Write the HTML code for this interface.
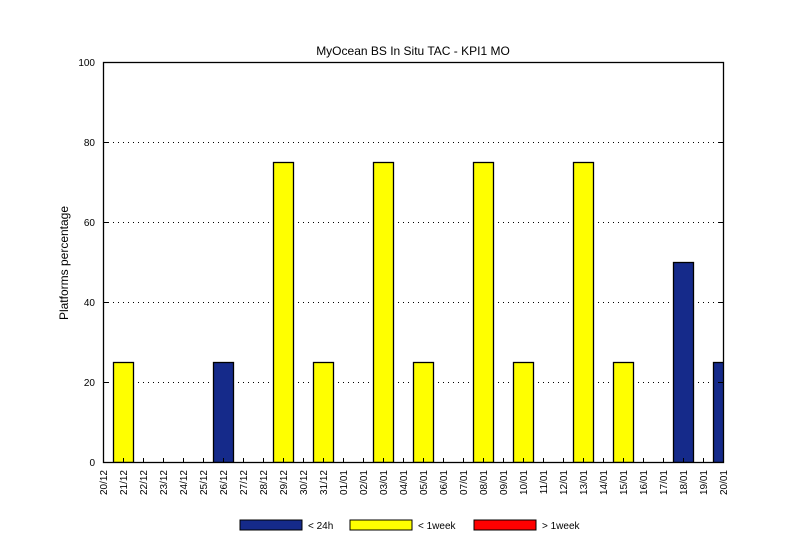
<!DOCTYPE html>
<html><head><meta charset="utf-8"><style>
body{margin:0;background:#fff;}
svg{display:block;font-family:"Liberation Sans",sans-serif;}
</style></head><body>
<svg id="chart" width="799" height="556">
<text x="413" y="55" font-size="12" text-anchor="middle">MyOcean  BS In Situ TAC - KPI1  MO</text>
<text transform="translate(68,263) rotate(-90)" font-size="12" text-anchor="middle">Platforms percentage</text>
<g id="grid"></g><g id="bars"></g><g id="axes"></g>
<g>
<rect x="240" y="520" width="62" height="10" fill="#152a8a" stroke="#000"/>
<text x="308" y="529" font-size="10">&lt; 24h</text>
<rect x="350" y="520" width="62" height="10" fill="#ffff00" stroke="#000"/>
<text x="418" y="529" font-size="10">&lt; 1week</text>
<rect x="474" y="520" width="62" height="10" fill="#ff0000" stroke="#000"/>
<text x="542" y="529" font-size="10">&gt; 1week</text>
</g>
</svg>
<script>
const categories=["20/12","21/12","22/12","23/12","24/12","25/12","26/12","27/12","28/12","29/12","30/12","31/12","01/01","02/01","03/01","04/01","05/01","06/01","07/01","08/01","09/01","10/01","11/01","12/01","13/01","14/01","15/01","16/01","17/01","18/01","19/01","20/01"];
const under24h=[0,0,0,0,0,0,25,0,0,0,0,0,0,0,0,0,0,0,0,0,0,0,0,0,0,0,0,0,0,50,0,25];
const under1week=[0,25,0,0,0,0,0,0,0,75,0,25,0,0,75,0,25,0,0,75,0,25,0,0,75,0,25,0,0,0,0,0];
const over1week=[0,0,0,0,0,0,0,0,0,0,0,0,0,0,0,0,0,0,0,0,0,0,0,0,0,0,0,0,0,0,0,0];
const yTicks=[0,20,40,60,80,100];
const NS="http://www.w3.org/2000/svg";
const L=103,R=723,T=62,B=462;
const step=(R-L)/(categories.length-1);
const xs=i=>L+i*step;
const ys=v=>B-(v/100)*(B-T);
function mk(tag,attrs,parent){const e=document.createElementNS(NS,tag);for(const k in attrs)e.setAttribute(k,attrs[k]);parent.appendChild(e);return e;}
const grid=document.getElementById('grid'),bars=document.getElementById('bars'),axes=document.getElementById('axes');
yTicks.forEach(v=>{
 if(v>0&&v<100){const g=mk('line',{x1:L,x2:R,y1:ys(v)+0.5,y2:ys(v)+0.5,stroke:'#000','stroke-dasharray':'1,4'},grid);
 
 }
 const t=mk('text',{x:L-8,y:ys(v)+4,'font-size':10,'text-anchor':'end'},axes);t.textContent=v;
 
 
 mk('line',{x1:L,x2:L+5,y1:ys(v)+0.5,y2:ys(v)+0.5,stroke:'#000'},axes);
 mk('line',{x1:R-5,x2:R,y1:ys(v)+0.5,y2:ys(v)+0.5,stroke:'#000'},axes);
});
const clip=mk('clipPath',{id:'pc'},bars);mk('rect',{x:L,y:T-2,width:R-L,height:B-T+2},clip);
const bg=mk('g',{'clip-path':'url(#pc)'},bars);
[[under24h,'#152a8a','bar-24h'],[under1week,'#ffff00','bar-1week'],[over1week,'#ff0000','bar-over-1week']].forEach(([arr,col,nm])=>{
 arr.forEach((v,i)=>{if(v<=0)return;
  const r=mk('rect',{x:xs(i)-step/2+0.5,y:ys(v)+0.5,width:step,height:B-ys(v),fill:col,stroke:'#000','stroke-width':1.3},bg);
  
  
 });
});
mk('rect',{x:L+0.5,y:T+0.5,width:R-L,height:B-T,fill:'none',stroke:'#000','stroke-width':1.3},axes);
categories.forEach((c,i)=>{
 mk('line',{x1:xs(i)+0.5,x2:xs(i)+0.5,y1:B-4,y2:B,stroke:'#000'},axes);
 const t=mk('text',{transform:`translate(${xs(i)+4},${470}) rotate(-90)`,'font-size':10,'text-anchor':'end'},axes);
 t.textContent=c;
 
 
});
</script>
</body></html>
